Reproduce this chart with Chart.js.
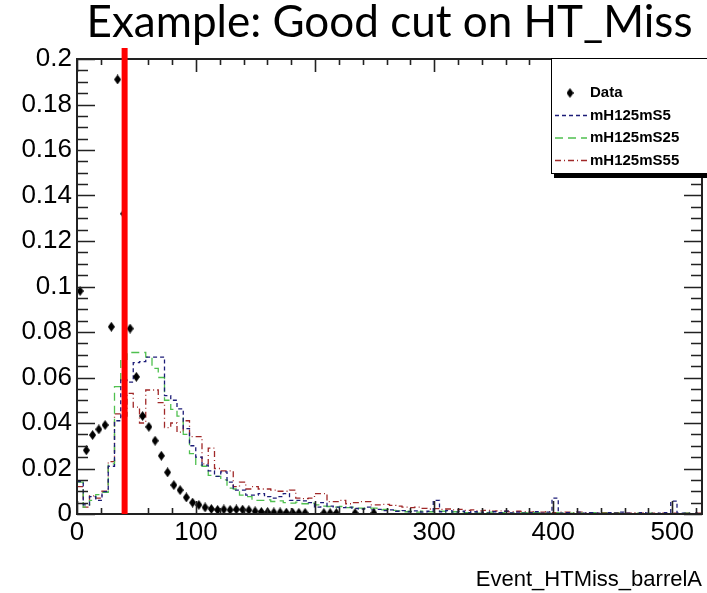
<!DOCTYPE html>
<html>
<head>
<meta charset="utf-8">
<script src="https://cdn.jsdelivr.net/npm/chart.js@4.4.1/dist/chart.umd.min.js"></script>
<style>
  html, body { margin: 0; padding: 0; background: #fff; }
  #wrap { width: 707px; height: 593px; }
</style>
</head>
<body>
<div id="wrap"><canvas id="grafico" width="707" height="593"></canvas></div>
<script>
// Binning of Event_HTMiss_barrelA: 100 bins from 0
const binWidth = 5.25;
const cutValue = 40;

const xTickValues = [0, 100, 200, 300, 400, 500];
const yTickValues = [0, 0.02, 0.04, 0.06, 0.08, 0.1, 0.12, 0.14, 0.16, 0.18, 0.2];

// Data (normalised), one value per bin, null = empty bin
const dataValues = [
  0.098, 0.028, 0.0347, 0.0372, 0.0391, 0.0823, 0.191, 0.132, 0.0815, 0.0603,
  0.0431, 0.0383, 0.0322, 0.0256, 0.0183, 0.0127, 0.0105, 0.0073, 0.0050, 0.0040,
  0.0029, 0.0022, 0.0018, 0.0020, 0.0018, 0.0020, 0.0019, 0.0017, 0.0012, 0.0009,
  0.0008, 0.0007, 0.0007, 0.0006, 0.0006, 0.0005, 0.0005, null, null, 0.0004,
  0.0004, 0.0004, null, null, 0.0004, null, null, 0.0004, null, null,
  null, null, null, null, null, null, null, null, null, null,
  null, null, null, null, null, null, null, null, null, null,
  null, null, null, null, null, null, null, null, null, null,
  null, null, null, null, null, null, null, null, null, null,
  null, null, null, null, null, null, null, null, null, null
];

// Signal samples
const mS5Values = [
  0.0142, 0.0040, 0.0076, 0.0060, 0.0098, 0.0210, 0.0410, 0.0590, 0.0580, 0.0665,
  0.0670, 0.0690, 0.0690, 0.0690, 0.0520, 0.0500, 0.0462, 0.0375, 0.0300, 0.0250,
  0.0215, 0.0190, 0.0165, 0.0185, 0.0140, 0.0105, 0.0105, 0.0083, 0.0083, 0.0090,
  0.0076, 0.0070, 0.0076, 0.0090, 0.0060, 0.0060, 0.0058, 0.0050, 0.0030, 0.0050,
  0.0035, 0.0030, 0.0028, 0.0030, 0.0025, 0.0022, 0.0030, 0.0018, 0.0020, 0.0015,
  0.0018, 0.0012, 0.0015, 0.0010, 0.0014, 0.0008, 0.0012, 0.0060, 0.0010, 0.0015,
  0.0008, 0.0012, 0.0006, 0.0010, 0.0008, 0.0004, 0.0010, 0.0006, 0.0012, 0.0005,
  0.0008, 0.0004, 0.0006, 0.0010, 0.0004, 0.0008, 0.0070, 0.0004, 0.0006, 0.0000,
  0.0008, 0.0004, 0.0006, 0.0004, 0.0000, 0.0006, 0.0004, 0.0008, 0.0004, 0.0000,
  0.0006, 0.0004, 0.0000, 0.0004, 0.0006, 0.0057, 0.0004, 0.0004, 0.0000, 0.0004
];

const mS25Values = [
  0.0140, 0.0030, 0.0060, 0.0085, 0.0095, 0.0220, 0.0560, 0.0680, 0.0710, 0.0710,
  0.0710, 0.0690, 0.0640, 0.0600, 0.0500, 0.0460, 0.0430, 0.0350, 0.0265, 0.0215,
  0.0210, 0.0170, 0.0165, 0.0150, 0.0114, 0.0110, 0.0083, 0.0076, 0.0060, 0.0060,
  0.0062, 0.0055, 0.0058, 0.0050, 0.0048, 0.0052, 0.0045, 0.0048, 0.0040, 0.0035,
  0.0033, 0.0030, 0.0033, 0.0028, 0.0030, 0.0026, 0.0024, 0.0026, 0.0018, 0.0020,
  0.0016, 0.0014, 0.0010, 0.0012, 0.0008, 0.0012, 0.0010, 0.0008, 0.0012, 0.0006,
  0.0010, 0.0008, 0.0006, 0.0008, 0.0004, 0.0006, 0.0008, 0.0004, 0.0006, 0.0004,
  0.0000, 0.0006, 0.0004, 0.0006, 0.0000, 0.0004, 0.0006, 0.0004, 0.0000, 0.0004,
  0.0004, 0.0000, 0.0006, 0.0000, 0.0004, 0.0000, 0.0004, 0.0000, 0.0000, 0.0004,
  0.0000, 0.0004, 0.0000, 0.0000, 0.0004, 0.0000, 0.0000, 0.0004, 0.0000, 0.0000
];

const mS55Values = [
  0.0120, 0.0030, 0.0080, 0.0070, 0.0100, 0.0230, 0.0440, 0.0430, 0.0530, 0.0470,
  0.0400, 0.0545, 0.0545, 0.0490, 0.0380, 0.0400, 0.0360, 0.0410, 0.0340, 0.0340,
  0.0220, 0.0290, 0.0200, 0.0190, 0.0190, 0.0120, 0.0140, 0.0110, 0.0120, 0.0110,
  0.0110, 0.0105, 0.0100, 0.0100, 0.0105, 0.0070, 0.0068, 0.0070, 0.0090, 0.0090,
  0.0054, 0.0054, 0.0060, 0.0045, 0.0050, 0.0054, 0.0054, 0.0040, 0.0040, 0.0042,
  0.0038, 0.0035, 0.0030, 0.0028, 0.0030, 0.0025, 0.0022, 0.0024, 0.0020, 0.0022,
  0.0018, 0.0020, 0.0016, 0.0018, 0.0014, 0.0016, 0.0012, 0.0014, 0.0012, 0.0010,
  0.0012, 0.0010, 0.0008, 0.0010, 0.0008, 0.0010, 0.0006, 0.0008, 0.0008, 0.0006,
  0.0008, 0.0006, 0.0004, 0.0006, 0.0006, 0.0004, 0.0006, 0.0004, 0.0004, 0.0006,
  0.0004, 0.0000, 0.0004, 0.0004, 0.0000, 0.0004, 0.0000, 0.0004, 0.0000, 0.0004
];

// histogram outline: one point per lower bin edge, plus the last upper edge
function histPoints(values) {
  const pts = values.map((v, i) => ({ x: i * binWidth, y: v }));
  pts.push({ x: values.length * binWidth, y: values[values.length - 1] });
  return pts;
}

// ROOT-like diamond marker (taller than wide)
function diamond(w, h, color) {
  const c = document.createElement('canvas');
  c.width = w; c.height = h;
  const g = c.getContext('2d');
  g.fillStyle = color;
  g.beginPath();
  g.moveTo(w / 2, 0); g.lineTo(w, h / 2); g.lineTo(w / 2, h); g.lineTo(0, h / 2);
  g.closePath();
  g.fill();
  return c;
}
const marker = diamond(7, 10, '#000');

const axisFont = 'Liberation Sans, Arial, sans-serif';

// frame with inward ticks on all four sides
const rootFrame = {
  id: 'rootFrame',
  afterDatasetsDraw(chart) {
    const { ctx, chartArea: a, scales: { x, y } } = chart;
    ctx.save();
    ctx.strokeStyle = '#222';
    ctx.lineWidth = 1.6;
    ctx.beginPath();
    for (let i = 0; i * 0.005 <= y.max + 1e-9; i++) {
      const py = Math.round(y.getPixelForValue(i * 0.005)) + 0.5;
      const len = i % 4 === 0 ? 18 : 11;
      ctx.moveTo(a.left, py); ctx.lineTo(a.left + len, py);
      ctx.moveTo(a.right, py); ctx.lineTo(a.right - len, py);
    }
    for (let i = 0; i * 20 <= x.max; i++) {
      const px = Math.round(x.getPixelForValue(i * 20)) + 0.5;
      const len = i % 5 === 0 ? 13 : 6;
      ctx.moveTo(px, a.bottom); ctx.lineTo(px, a.bottom - len);
      ctx.moveTo(px, a.top); ctx.lineTo(px, a.top + len);
    }
    ctx.stroke();
    ctx.lineWidth = 2;
    ctx.strokeRect(a.left, a.top, a.right - a.left, a.bottom - a.top);
    ctx.restore();
  },
  afterDraw(chart) {
    const { ctx, chartArea: a, scales: { x, y } } = chart;
    ctx.save();
    // cut line
    const cx = x.getPixelForValue(cutValue);
    ctx.strokeStyle = '#ff0000';
    ctx.lineWidth = 6;
    ctx.beginPath();
    ctx.moveTo(cx, y.getPixelForValue(0));
    ctx.lineTo(cx, a.top - 11);
    ctx.stroke();

    // legend box with shadow
    const bx = 551, by = a.top - 1, bw = 170, bh = 115;
    ctx.fillStyle = '#000';
    ctx.fillRect(bx + 3, by + bh, bw, 5);
    ctx.fillStyle = '#fff';
    ctx.fillRect(bx, by, bw, bh);
    ctx.strokeStyle = '#000';
    ctx.lineWidth = 1;
    ctx.strokeRect(bx + 0.5, by + 0.5, bw, bh);
    ctx.font = 'bold 15px ' + axisFont;
    ctx.textBaseline = 'middle';
    ctx.textAlign = 'left';
    chart.data.datasets.forEach((ds, i) => {
      const ry = by + 35 + i * 22.5;
      if (ds.showLine === false) {
        ctx.drawImage(marker, 570 - marker.width / 2, ry - marker.height / 2);
      } else {
        ctx.strokeStyle = ds.borderColor;
        ctx.lineWidth = 1.4;
        ctx.setLineDash(ds.borderDash);
        ctx.beginPath();
        ctx.moveTo(bx + 4, ry); ctx.lineTo(bx + 36, ry);
        ctx.stroke();
        ctx.setLineDash([]);
      }
      ctx.fillStyle = '#000';
      ctx.fillText(ds.label, 590, ry);
    });
    ctx.restore();
  }
};

const ctx = document.getElementById('grafico').getContext('2d');
new Chart(ctx, {
  type: 'line',
  data: {
    datasets: [
      {
        label: 'Data',
        data: dataValues.map((v, i) => ({ x: (i + 0.5) * binWidth, y: v })),
        showLine: false,
        pointStyle: marker,
        pointRadius: 4,
        borderColor: '#000',
        backgroundColor: '#000'
      },
      {
        label: 'mH125mS5',
        data: histPoints(mS5Values),
        stepped: 'before',
        borderColor: '#1c1c78',
        borderDash: [4, 3],
        borderWidth: 1.3,
        pointRadius: 0,
        fill: false
      },
      {
        label: 'mH125mS25',
        data: histPoints(mS25Values),
        stepped: 'before',
        borderColor: '#4fc04f',
        borderDash: [8, 5],
        borderWidth: 1.3,
        pointRadius: 0,
        fill: false
      },
      {
        label: 'mH125mS55',
        data: histPoints(mS55Values),
        stepped: 'before',
        borderColor: '#a02828',
        borderDash: [6, 3, 1, 3],
        borderWidth: 1.3,
        pointRadius: 0,
        fill: false
      }
    ]
  },
  options: {
    responsive: false,
    animation: false,
    events: [],
    layout: { padding: 0 },
    plugins: {
      legend: { display: false },
      tooltip: { enabled: false },
      title: {
        display: true,
        text: 'Example: Good cut on HT_Miss',
        fullSize: false,
        color: '#000',
        font: { family: 'Lato, sans-serif', size: 44, weight: 'normal', lineHeight: 1 },
        padding: { top: 1, bottom: 14 }
      }
    },
    scales: {
      x: {
        type: 'linear',
        min: 0,
        max: 525,
        afterFit(s) { s.height = 79; },
        afterBuildTicks(s) { s.ticks = xTickValues.map(v => ({ value: v })); },
        grid: { display: false, drawTicks: false },
        border: { display: false },
        ticks: {
          padding: 3,
          maxRotation: 0,
          color: '#000',
          font: { family: axisFont, size: 26 }
        },
        title: {
          display: true,
          text: 'Event_HTMiss_barrelA',
          align: 'end',
          color: '#000',
          font: { family: axisFont, size: 22 },
          padding: { top: 0, bottom: 0 }
        }
      },
      y: {
        min: 0,
        max: 0.2,
        afterFit(s) { s.width = 77; },
        afterBuildTicks(s) { s.ticks = yTickValues.map(v => ({ value: v })); },
        grid: { display: false, drawTicks: false },
        border: { display: false },
        ticks: {
          padding: 5,
          color: '#000',
          font: { family: axisFont, size: 26 },
          callback: v => String(+v.toFixed(2))
        }
      }
    }
  },
  plugins: [rootFrame]
});
</script>
</body>
</html>
